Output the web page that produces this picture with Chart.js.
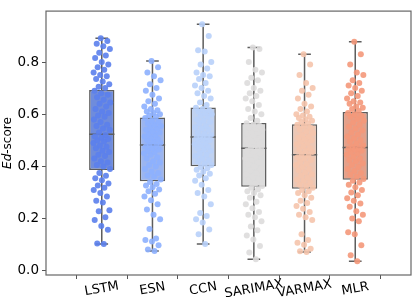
<!DOCTYPE html>
<html>
<head>
<meta charset="utf-8">
<script src="https://cdn.jsdelivr.net/npm/chart.js@4.4.1/dist/chart.umd.min.js"></script>
<style>
  html, body { margin: 0; padding: 0; background: #fff; }
  #wrap { width: 415px; height: 303px; }
</style>
</head>
<body>
<div id="wrap"><canvas id="chart"></canvas></div>
<script>
// Categories and box statistics
const models = ["LSTM", "ESN", "CCN", "SARIMAX", "VARMAX", "MLR"];
const whiskerLow  = [0.103, 0.076, 0.103, 0.044, 0.072, 0.037];
const quart1      = [0.386, 0.343, 0.401, 0.322, 0.314, 0.349];
const medians     = [0.523, 0.482, 0.513, 0.470, 0.445, 0.472];
const quart3      = [0.693, 0.587, 0.626, 0.566, 0.562, 0.608];
const whiskerHigh = [0.891, 0.804, 0.945, 0.856, 0.830, 0.878];
const yTicks = [0.0, 0.2, 0.4, 0.6, 0.8];

// Individual scores (strip points), estimated
const lstmScores = [0.103,0.105,0.157,0.172,0.195,0.205,0.228,0.232,0.262,0.268,0.285,0.298,0.31,0.318,0.327,0.335,0.347,0.355,0.364,0.375,
  0.39,0.40,0.405,0.415,0.42,0.43,0.44,0.445,0.455,0.46,0.47,0.475,0.48,0.49,0.495,0.50,0.505,0.51,0.515,0.52,
  0.53,0.54,0.545,0.555,0.56,0.57,0.58,0.59,0.595,0.605,0.61,0.62,0.63,0.64,0.645,0.655,0.665,0.675,0.68,0.69,
  0.70,0.705,0.715,0.725,0.735,0.745,0.75,0.76,0.77,0.78,0.79,0.80,0.815,0.825,0.835,0.85,0.86,0.87,0.88,0.891];
const esnScores = [0.076,0.082,0.098,0.112,0.118,0.124,0.16,0.198,0.215,0.235,0.255,0.27,0.285,0.295,0.305,0.312,0.32,0.327,0.333,0.34,
  0.35,0.36,0.365,0.375,0.38,0.39,0.40,0.405,0.415,0.42,0.43,0.435,0.445,0.45,0.455,0.46,0.465,0.47,0.475,0.48,
  0.485,0.49,0.495,0.50,0.505,0.51,0.515,0.52,0.525,0.53,0.535,0.54,0.545,0.55,0.555,0.56,0.565,0.57,0.575,0.585,
  0.59,0.595,0.60,0.605,0.61,0.615,0.62,0.63,0.64,0.65,0.66,0.675,0.69,0.70,0.715,0.73,0.745,0.76,0.78,0.804];
const ccnScores = [0.103,0.14,0.158,0.185,0.198,0.21,0.222,0.255,0.285,0.298,0.31,0.33,0.345,0.355,0.365,0.372,0.38,0.387,0.393,0.398,
  0.405,0.41,0.42,0.425,0.43,0.44,0.445,0.45,0.46,0.465,0.47,0.475,0.48,0.485,0.49,0.495,0.50,0.505,0.508,0.512,
  0.515,0.52,0.525,0.53,0.54,0.545,0.55,0.555,0.565,0.57,0.575,0.58,0.59,0.595,0.60,0.605,0.61,0.615,0.62,0.625,
  0.635,0.645,0.66,0.67,0.68,0.69,0.70,0.71,0.72,0.735,0.745,0.75,0.76,0.775,0.79,0.80,0.84,0.845,0.90,0.945];
const sarimaxScores = [0.044,0.07,0.095,0.12,0.135,0.155,0.17,0.19,0.205,0.215,0.225,0.24,0.255,0.265,0.28,0.29,0.298,0.305,0.312,0.318,
  0.325,0.335,0.345,0.35,0.36,0.37,0.375,0.385,0.39,0.40,0.41,0.415,0.425,0.43,0.44,0.445,0.45,0.455,0.46,0.468,
  0.472,0.475,0.48,0.485,0.49,0.495,0.50,0.505,0.51,0.515,0.52,0.525,0.53,0.535,0.54,0.545,0.55,0.555,0.56,0.565,
  0.575,0.585,0.60,0.61,0.62,0.635,0.65,0.66,0.67,0.68,0.69,0.70,0.72,0.73,0.74,0.76,0.77,0.80,0.85,0.856];
const varmaxScores = [0.072,0.075,0.085,0.10,0.108,0.118,0.14,0.195,0.205,0.215,0.225,0.238,0.248,0.26,0.268,0.28,0.29,0.298,0.305,0.31,
  0.318,0.325,0.33,0.338,0.345,0.35,0.358,0.365,0.37,0.378,0.385,0.39,0.398,0.405,0.41,0.418,0.425,0.43,0.435,0.442,
  0.448,0.455,0.46,0.465,0.47,0.478,0.485,0.49,0.495,0.50,0.505,0.51,0.515,0.52,0.528,0.535,0.54,0.548,0.555,0.56,
  0.565,0.57,0.575,0.58,0.585,0.59,0.595,0.60,0.61,0.62,0.63,0.64,0.66,0.675,0.69,0.70,0.72,0.75,0.79,0.83];
const mlrScores = [0.037,0.06,0.098,0.14,0.148,0.19,0.2,0.215,0.228,0.245,0.258,0.268,0.278,0.29,0.3,0.31,0.32,0.33,0.338,0.345,
  0.352,0.36,0.368,0.375,0.382,0.39,0.398,0.405,0.412,0.42,0.425,0.43,0.438,0.445,0.45,0.455,0.46,0.465,0.468,0.47,
  0.475,0.48,0.488,0.495,0.50,0.508,0.515,0.522,0.53,0.538,0.545,0.552,0.56,0.568,0.575,0.582,0.59,0.595,0.60,0.605,
  0.612,0.62,0.625,0.63,0.64,0.645,0.65,0.66,0.67,0.68,0.69,0.70,0.71,0.72,0.73,0.75,0.76,0.79,0.83,0.878];
const scoresByModel = [lstmScores, esnScores, ccnScores, sarimaxScores, varmaxScores, mlrScores];

// Colours
const pointColors = ["#5b7fec", "#8db0fe", "#b8d0f9", "#dddcdc", "#f5c4ac", "#f4987a"];
const boxColors   = ["#6f8cdc", "#9bb5f0", "#c0d2f1", "#dcdcdc", "#ecc7b5", "#e5a089"];
const lineGray = "#5d5d5d";
const FONT = "DejaVu Sans";

// deterministic horizontal spread for the strip points (golden-ratio sequence)
function jitter(j){ return (((j + 1) * 0.6180339) % 1 - 0.5) * 0.34; }

// whiskers, caps, medians, frame, rotated x labels, y title
const boxExtras = {
  id: "boxExtras",
  afterDatasetDraw(chart, args){
    if (args.index !== 0) return;
    const { ctx, scales: { x, y } } = chart;
    ctx.save();
    ctx.strokeStyle = lineGray;
    ctx.lineWidth = 1.5;
    models.forEach((m, i) => {
      const cx = x.getPixelForValue(i);
      const half = args.meta.data[i].width / 2;
      ctx.beginPath();
      ctx.moveTo(cx, y.getPixelForValue(quart1[i])); ctx.lineTo(cx, y.getPixelForValue(whiskerLow[i]));
      ctx.moveTo(cx, y.getPixelForValue(quart3[i])); ctx.lineTo(cx, y.getPixelForValue(whiskerHigh[i]));
      ctx.moveTo(cx - half/2, y.getPixelForValue(whiskerLow[i])); ctx.lineTo(cx + half/2, y.getPixelForValue(whiskerLow[i]));
      ctx.moveTo(cx - half/2, y.getPixelForValue(whiskerHigh[i])); ctx.lineTo(cx + half/2, y.getPixelForValue(whiskerHigh[i]));
      ctx.moveTo(cx - half, y.getPixelForValue(medians[i])); ctx.lineTo(cx + half, y.getPixelForValue(medians[i]));
      ctx.stroke();
    });
    ctx.restore();
  },
  afterDraw(chart){
    const { ctx, chartArea: a, scales: { x } } = chart;
    ctx.save();
    ctx.strokeStyle = "#666";
    ctx.lineWidth = 1.2;
    ctx.strokeRect(a.left, a.top, a.right - a.left, a.bottom - a.top);

    ctx.fillStyle = "#000";
    ctx.font = "13px '" + FONT + "'";
    ctx.textAlign = "center";
    ctx.textBaseline = "middle";
    models.forEach((m, i) => {
      ctx.save();
      ctx.translate(x.getPixelForValue(i), a.bottom + 14);
      ctx.rotate(-10 * Math.PI / 180);
      ctx.fillText(m, 0, 0);
      ctx.restore();
    });

    // y title: italic "Ed" + "-score"
    ctx.translate(8, (a.top + a.bottom) / 2);
    ctx.rotate(-Math.PI / 2);
    ctx.textAlign = "left";
    const itFont = "italic 12px '" + FONT + "'", upFont = "12px '" + FONT + "'";
    ctx.font = itFont; const w1 = ctx.measureText("Ed").width;
    ctx.font = upFont; const w2 = ctx.measureText("-score").width;
    const x0 = -(w1 + w2) / 2;
    ctx.font = itFont; ctx.fillText("Ed", x0, 0);
    ctx.font = upFont; ctx.fillText("-score", x0 + w1, 0);
    ctx.restore();
  }
};

const datasets = [{
  type: "bar",
  data: models.map((m, i) => ({ x: i, y: [quart1[i], quart3[i]] })),
  backgroundColor: boxColors,
  borderColor: lineGray,
  borderWidth: 1.5,
  borderSkipped: false,
  barPercentage: 0.5,
  categoryPercentage: 1,
  order: 2
}];
scoresByModel.forEach((arr, i) => {
  datasets.push({
    type: "scatter",
    data: arr.map((v, j) => ({ x: i + jitter(j), y: v })),
    backgroundColor: pointColors[i] + "e6",
    borderWidth: 0,
    pointRadius: 3,
    order: 1
  });
});

new Chart(document.getElementById("chart"), {
  data: { datasets },
  options: {
    responsive: true,
    maintainAspectRatio: false,
    animation: false,
    layout: { padding: { left: 0, right: 2, top: 1, bottom: 0 } },
    plugins: { legend: { display: false }, tooltip: { enabled: false } },
    scales: {
      x: {
        type: "linear", min: -0.5, max: 5.5,
        afterBuildTicks: ax => { ax.ticks = models.map((m, i) => ({ value: i })); },
        afterFit: ax => { ax.height = 28; },
        ticks: { display: false },
        grid: { drawOnChartArea: false, drawTicks: true, tickLength: 4, color: "#555" },
        border: { display: false }
      },
      y: {
        min: -0.016, max: 0.995,
        afterBuildTicks: ax => { ax.ticks = yTicks.map(v => ({ value: v })); },
        afterFit: ax => { ax.width = 46; },
        ticks: { color: "#000", padding: 3, font: { family: FONT, size: 13.5 }, callback: v => v.toFixed(1) },
        grid: { drawOnChartArea: false, drawTicks: true, tickLength: 4, color: "#555" },
        border: { display: false }
      }
    }
  },
  plugins: [boxExtras]
});
</script>
</body>
</html>
